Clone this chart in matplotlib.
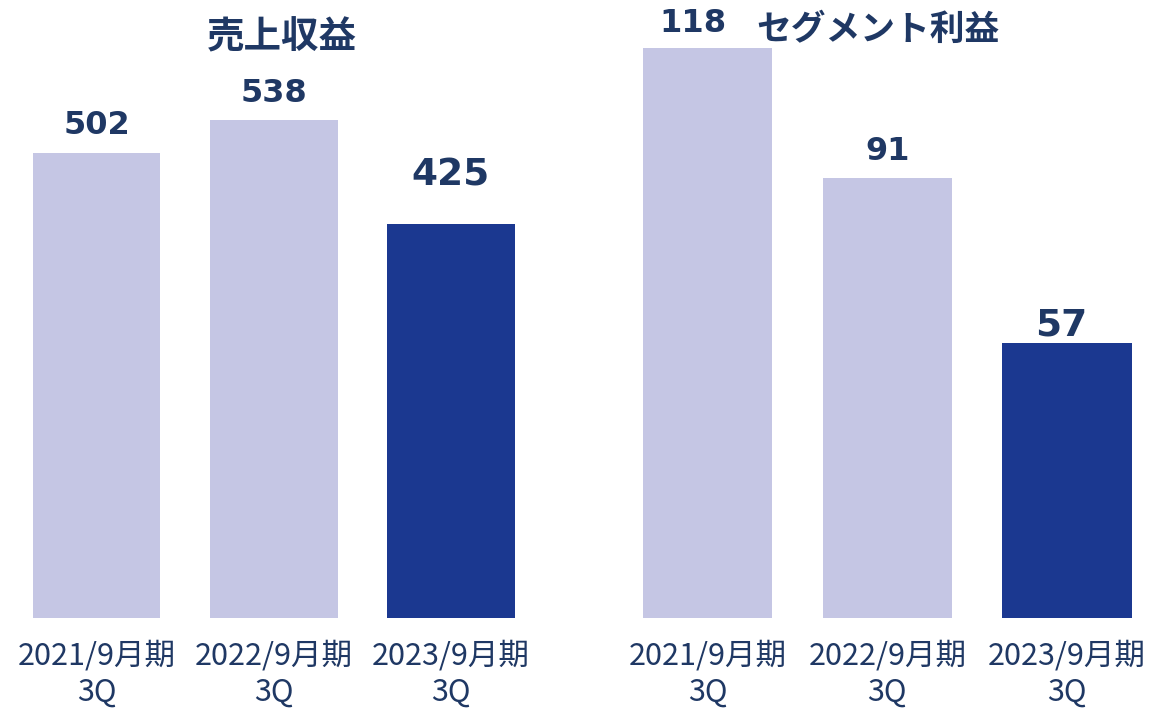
import matplotlib
matplotlib.use("Agg")
import matplotlib.pyplot as plt

plt.rcParams["font.family"] = ["Noto Sans CJK JP", "DejaVu Sans"]

# data
periods = ["2021/9月期\n3Q", "2022/9月期\n3Q", "2023/9月期\n3Q"]
revenue = [502, 538, 425]
segment_profit = [118, 91, 57]
titles = ["売上収益", "セグメント利益"]

LIGHT = "#c5c6e4"
DARK = "#1b3890"
TXT = "#1f3864"
colors = [LIGHT, LIGHT, DARK]

W, H = 1153, 711
fig = plt.figure(figsize=(W / 100, H / 100), dpi=100)

def px_axes(x0, x1, base, top=0):
    # pixel box (from top-left) -> figure fraction
    return fig.add_axes([x0 / W, (H - base) / H, (x1 - x0) / W, (base - top) / H])

panels = [
    # axes px box, xlim, ylim top, label nudges (x in data units, dy in px), title pos
    dict(box=(8, 539.5), xlim=(-0.5, 2.5), ytop=667.4, vals=revenue,
         nudge=[0.0, 0.0, 0.0], dy=[12, 11, 31], title_xy=(282, 37), tsize=27),
    dict(box=(617.6, 1153), xlim=(-0.5, 2.478), ytop=127.9, vals=segment_profit,
         nudge=[-0.08, 0.0, -0.03], dy=[9, 11, -1], title_xy=(878, 29), tsize=25),
]

for p, title in zip(panels, titles):
    ax = px_axes(p["box"][0], p["box"][1], 618)
    x = range(len(periods))
    ax.bar(x, p["vals"], width=0.72, color=colors)
    ax.set_xlim(*p["xlim"])
    ax.set_ylim(0, p["ytop"])
    ax.axis("off")
    for i, v in enumerate(p["vals"]):
        big = i == len(p["vals"]) - 1
        ax.annotate(str(v), (i + p["nudge"][i], v), xytext=(0, p["dy"][i] * 0.72),
                    textcoords="offset points", ha="center", va="bottom",
                    fontsize=27 if big else 23, fontweight="bold", color=TXT,
                    family="DejaVu Sans")
    tx, ty = p["title_xy"]
    fig.text(tx / W, 1 - ty / H, title, ha="center", va="center",
             fontsize=p["tsize"], fontweight="bold", color=TXT)
    # category labels below the baseline
    for i, lab in enumerate(periods):
        xd = ax.transData.transform((i, 0))[0]
        fig.text(xd / W, 1 - 674 / H, lab, ha="center", va="center",
                 fontsize=22, color=TXT, linespacing=1.2)

fig.savefig("out.png", dpi=100)
